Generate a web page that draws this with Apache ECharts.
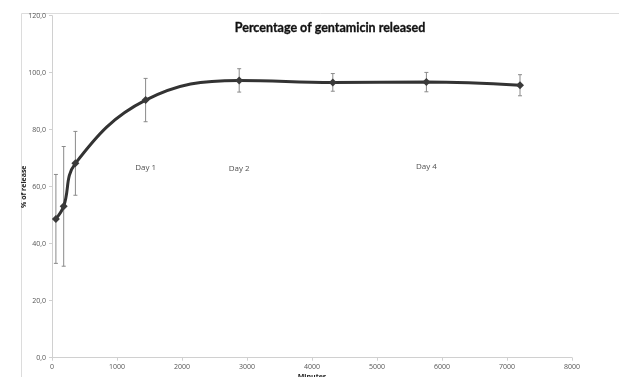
<!DOCTYPE html>
<html><head><meta charset="utf-8">
<script src="https://cdn.jsdelivr.net/npm/echarts@6/dist/echarts.min.js"></script>
<style>html,body{margin:0;padding:0;background:#fff}#c{width:619px;height:377px}</style>
</head><body><div id="c"></div>
<script>
var minutes = [60, 180, 360, 1440, 2880, 4320, 5760, 7200];
var release = [48.7, 53.1, 68.2, 90.4, 97.3, 96.6, 96.7, 95.6];
var errors  = [15.6, 21.0, 11.2, 7.6, 4.1, 3.1, 3.4, 3.7];
var dayLabels = ['Day 1', 'Day 2', 'Day 4'];
var dayX = [1440, 2880, 5760];
var dayY = [66.6, 66.2, 66.9];

var chart = echarts.init(document.getElementById('c'));
var font = "'Open Sans', 'Liberation Sans', sans-serif";
chart.setOption({
  animation: false,
  backgroundColor: '#fff',
  title: {
    text: 'Percentage of gentamicin released',
    left: 325, top: 16, textAlign: 'center',
    textStyle: { fontFamily: "Lato, 'Open Sans', sans-serif", fontSize: 12.5, fontWeight: 'bold', color: '#111',
      textBorderColor: '#111', textBorderWidth: 0.3 }
  },
  graphic: [{
    type: 'rect', left: 19, top: 11, z: -1,
    shape: { width: 700, height: 500 },
    style: { fill: 'none', stroke: '#dcdcdc', lineWidth: 1 }
  }],
  grid: { left: 52, right: 47, top: 15.7, bottom: 19.3, outerBoundsMode: 'none', containLabel: false },
  xAxis: {
    type: 'value', min: 0, max: 8000, interval: 1000,
    name: 'Minutes', nameLocation: 'middle', nameGap: 16, nameMoveOverlap: false,
    nameTextStyle: { fontFamily: font, fontSize: 7, fontWeight: 'bold', color: '#222' },
    axisLine: { lineStyle: { color: '#d0d0d0' } },
    axisTick: { show: true, length: 3, lineStyle: { color: '#d0d0d0' } },
    axisLabel: { fontFamily: font, fontSize: 7, color: '#555', margin: 6,
      formatter: function (v) { return String(v); } },
    splitLine: { show: false }
  },
  yAxis: {
    type: 'value', min: 0, max: 120, interval: 20,
    name: '% of release', nameLocation: 'middle', nameGap: 25, nameRotate: 90, nameMoveOverlap: false,
    nameTextStyle: { fontFamily: font, fontSize: 7, fontWeight: 'bold', color: '#222' },
    axisLine: { show: true, lineStyle: { color: '#d0d0d0' } },
    axisTick: { show: true, length: 3, lineStyle: { color: '#d0d0d0' } },
    axisLabel: { fontFamily: font, fontSize: 7, color: '#555', margin: 6,
      formatter: function (v) { return v.toFixed(1).replace('.', ','); } },
    splitLine: { show: false }
  },
  series: [
    {
      type: 'custom',
      renderItem: function (params, api) {
        var x = api.value(0), lo = api.value(1), hi = api.value(2);
        var p1 = api.coord([x, hi]), p2 = api.coord([x, lo]);
        var c = 2;
        var st = { stroke: '#8a8a8a', lineWidth: 1 };
        return { type: 'group', children: [
          { type: 'line', shape: { x1: p1[0], y1: p1[1], x2: p2[0], y2: p2[1] }, style: st },
          { type: 'line', shape: { x1: p1[0]-c, y1: p1[1], x2: p1[0]+c, y2: p1[1] }, style: st },
          { type: 'line', shape: { x1: p2[0]-c, y1: p2[1], x2: p2[0]+c, y2: p2[1] }, style: st }
        ]};
      },
      data: minutes.map(function (m, i) { return [m, release[i] - errors[i], release[i] + errors[i]]; }),
      z: 1
    },
    {
      type: 'line', smooth: 0.4,
      data: minutes.map(function (m, i) { return [m, release[i]]; }),
      lineStyle: { color: '#333', width: 3 },
      symbol: 'diamond', symbolSize: 8,
      itemStyle: { color: '#3a3a3a' },
      z: 2
    },
    {
      type: 'scatter', symbolSize: 0,
      data: dayX.map(function (x, i) { return { value: [x, dayY[i]], name: dayLabels[i] }; }),
      label: { show: true, position: 'inside', formatter: '{b}',
        fontFamily: font, fontSize: 8, color: '#222' },
      z: 3
    }
  ]
});
</script></body></html>
